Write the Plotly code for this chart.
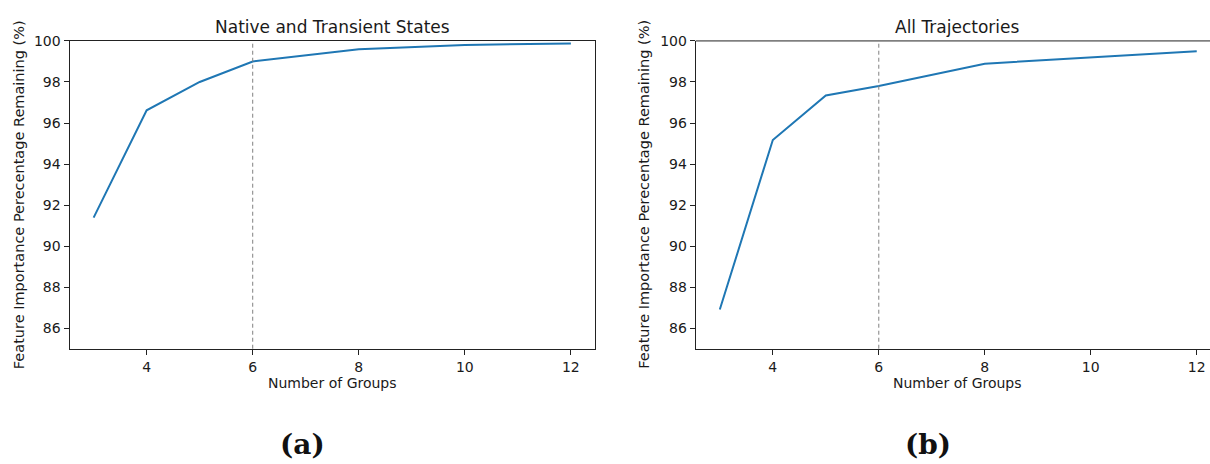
import plotly.graph_objects as go

# Data
groups_a = [3, 4, 5, 6, 8, 10, 12]
remaining_a = [91.39, 96.62, 98.0, 99.0, 99.6, 99.8, 99.88]
groups_b = [3, 4, 5, 6, 8, 10, 12]
remaining_b = [86.91, 95.17, 97.34, 97.8, 98.89, 99.2, 99.5]
chosen_groups = 6
titles = ["Native and Transient States", "All Trajectories"]
panel_labels = ["(a)", "(b)"]
x_ticks = [4, 6, 8, 10, 12]
y_ticks = [86, 88, 90, 92, 94, 96, 98, 100]

W, H = 1210, 464
LINE_COLOR = "#1f77b4"
TXT = "#1a1a1a"
FONT = "DejaVu Sans"

fig = go.Figure()
fig.add_trace(go.Scatter(x=groups_a, y=remaining_a, mode="lines",
                         line=dict(color=LINE_COLOR, width=2), xaxis="x", yaxis="y",
                         showlegend=False))
fig.add_trace(go.Scatter(x=groups_b, y=remaining_b, mode="lines",
                         line=dict(color=LINE_COLOR, width=2), xaxis="x2", yaxis="y2",
                         showlegend=False))

ydom = [1 - 346.7 / H, 1 - 33.5 / H]
dom_a = [69.5 / W, 595 / W]
dom_b = [695.7 / W, 1.0]

common_x = dict(showline=True, linecolor="#222", linewidth=1, ticks="outside", ticklen=5,
                tickcolor="#222", tickwidth=1, tickvals=x_ticks, showgrid=False, zeroline=False,
                tickfont=dict(family=FONT, size=14, color=TXT))
common_y = dict(showline=True, linecolor="#222", linewidth=1, ticks="outside", ticklen=5,
                tickcolor="#222", tickwidth=1, tickvals=y_ticks, showgrid=False, zeroline=False,
                range=[85, 100], tickfont=dict(family=FONT, size=14, color=TXT))

fig.update_layout(
    width=W, height=H, margin=dict(l=0, r=0, t=0, b=0),
    paper_bgcolor="white", plot_bgcolor="white",
    xaxis=dict(domain=dom_a, anchor="y", range=[2.545, 12.455], mirror=True, **common_x),
    yaxis=dict(domain=ydom, anchor="x", mirror=True, **common_y),
    xaxis2=dict(domain=dom_b, anchor="y2", range=[2.545, 12.25], mirror=False, **common_x),
    yaxis2=dict(domain=ydom, anchor="x2", mirror=False, **common_y),
)

# top border of right panel (right spine is cropped in the reference)
fig.add_shape(type="line", xref="x2 domain", yref="y2 domain", x0=0, x1=1, y0=1, y1=1,
              line=dict(color="#222", width=1))

# dashed vertical lines at chosen number of groups
for xr, yr in [("x", "y domain"), ("x2", "y2 domain")]:
    fig.add_shape(type="line", xref=xr, yref=yr, x0=chosen_groups, x1=chosen_groups, y0=0, y1=1,
                  line=dict(color="gray", width=1, dash="4px,3px"))

centers_px = [(69.5 + 595) / 2, (695.7 + 1220) / 2]
ylab_px = [18.5, 644]
label_px = [302, 928]
for i in range(2):
    fig.add_annotation(text=titles[i], xref="paper", yref="paper", x=centers_px[i] / W,
                       y=1 - 19 / H, showarrow=False, xanchor="center", yanchor="middle",
                       font=dict(family=FONT, size=17, color=TXT))
    fig.add_annotation(text="Number of Groups", xref="paper", yref="paper", x=centers_px[i] / W,
                       y=1 - 381.7 / H, showarrow=False, xanchor="center", yanchor="middle",
                       font=dict(family=FONT, size=14, color=TXT))
    fig.add_annotation(text="Feature Importance Perecentage Remaining (%)", xref="paper",
                       yref="paper", x=ylab_px[i] / W, y=1 - 190 / H, textangle=-90,
                       showarrow=False, xanchor="center", yanchor="middle",
                       font=dict(family=FONT, size=14.5, color=TXT))
    fig.add_annotation(text="<b>" + panel_labels[i] + "</b>", xref="paper", yref="paper",
                       x=label_px[i] / W, y=1 - 444 / H, showarrow=False, xanchor="center",
                       yanchor="middle", font=dict(family="DejaVu Serif", size=28, color="#111"))

post = ("document.documentElement.style.margin='0';document.documentElement.style.padding='0';"
        "document.body.style.margin='0';document.body.style.padding='0';"
        "document.body.style.overflow='hidden';")
fig.write_html("out.html", post_script=post, config={"displayModeBar": False})
